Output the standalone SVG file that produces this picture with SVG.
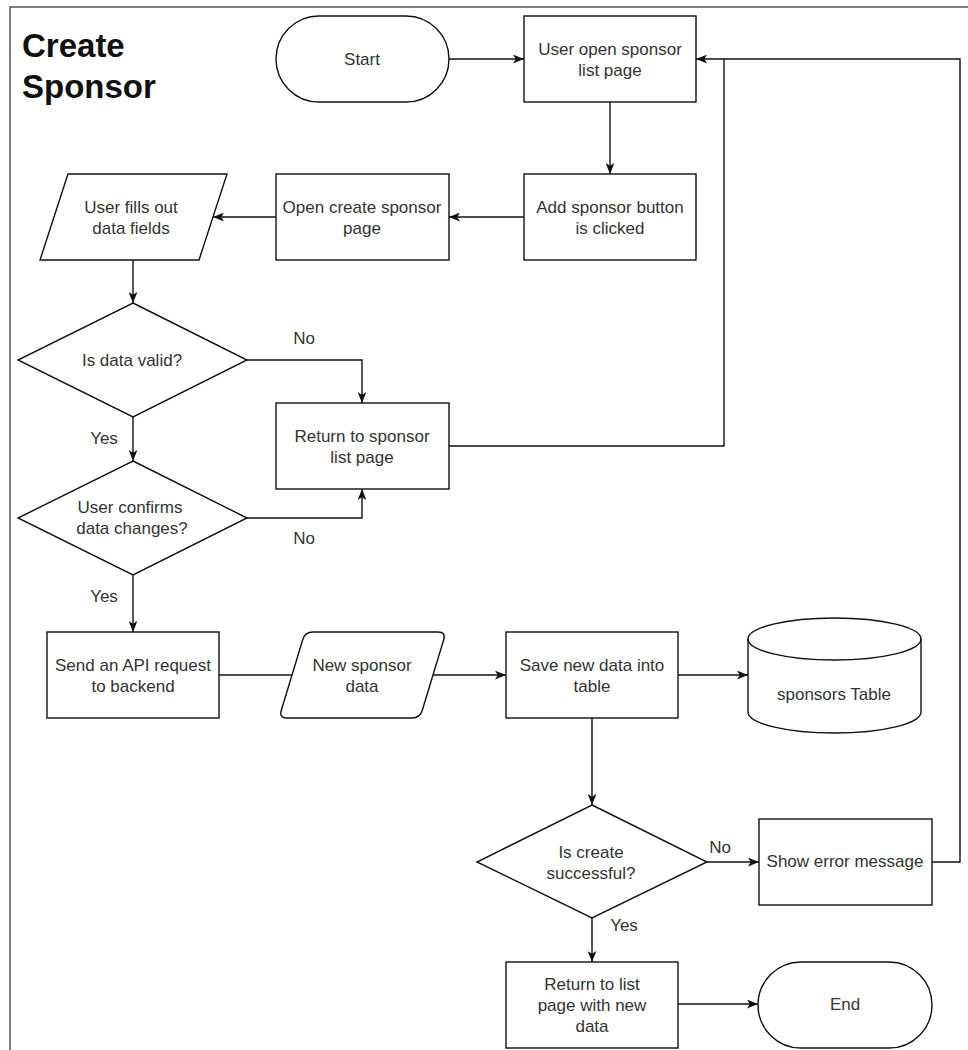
<svg xmlns="http://www.w3.org/2000/svg" width="968" height="1050" viewBox="0 0 968 1050">
<style>
.s{fill:#fff;stroke:#111;stroke-width:1.4}
.t{font-family:"Liberation Sans",Arial,sans-serif;font-size:17px;fill:#333;text-anchor:middle}
.ttl{font-family:"Liberation Sans",Arial,sans-serif;font-size:33px;font-weight:bold;fill:#111}
.c{fill:none;stroke:#111;stroke-width:1.4}
.lbl{font-family:"Liberation Sans",Arial,sans-serif;font-size:17px;fill:#333;text-anchor:middle}
</style>
<defs>
<marker id="arr" viewBox="0 0 10 8" refX="10" refY="4" markerWidth="11" markerHeight="9" orient="auto" markerUnits="userSpaceOnUse">
<path d="M0,0 L10,4 L0,8 L2.5,4 Z" fill="#111"/>
</marker>
</defs>
<rect width="968" height="1050" fill="#fff"/>
<g id="frame">
<path d="M10,1050 V7 H968" fill="none" stroke="#555" stroke-width="1.5"/>
<text class="ttl" x="22" y="57">Create</text>
<text class="ttl" x="22" y="98">Sponsor</text>
</g>
<g id="connectors">
<path class="c" d="M449,59 H524" marker-end="url(#arr)"/>
<path class="c" d="M610,102 V174" marker-end="url(#arr)"/>
<path class="c" d="M524,217 H449" marker-end="url(#arr)"/>
<path class="c" d="M276,217 H213" marker-end="url(#arr)"/>
<path class="c" d="M133,260 V303" marker-end="url(#arr)"/>
<path class="c" d="M247,360 H362 V403" marker-end="url(#arr)"/>
<path class="c" d="M133,417 V461" marker-end="url(#arr)"/>
<path class="c" d="M247,518 H362 V489" marker-end="url(#arr)"/>
<path class="c" d="M133,575 V632" marker-end="url(#arr)"/>
<path class="c" d="M219,675 H293"/>
<path class="c" d="M433,675 H506" marker-end="url(#arr)"/>
<path class="c" d="M678,675 H748" marker-end="url(#arr)"/>
<path class="c" d="M592,718 V805" marker-end="url(#arr)"/>
<path class="c" d="M707,862 H759" marker-end="url(#arr)"/>
<path class="c" d="M592,918 V962" marker-end="url(#arr)"/>
<path class="c" d="M932,862 H960 V59 H696" marker-end="url(#arr)"/>
<path class="c" d="M449,446 H724 V59"/>
<path class="c" d="M678,1004 H758" marker-end="url(#arr)"/>
<text class="lbl" x="304" y="344">No</text>
<text class="lbl" x="104" y="444">Yes</text>
<text class="lbl" x="304" y="544">No</text>
<text class="lbl" x="104" y="602">Yes</text>
<text class="lbl" x="720" y="853">No</text>
<text class="lbl" x="624" y="931">Yes</text>
</g>
<g id="start">
<rect class="s" x="276" y="16" width="173" height="86" rx="43"/>
<text class="t" x="362" y="65">Start</text>
</g>
<g id="user-open">
<rect class="s" x="524" y="16" width="172" height="86"/>
<text class="t" x="610" y="55">User open sponsor</text>
<text class="t" x="610" y="76">list page</text>
</g>
<g id="add-clicked">
<rect class="s" x="524" y="174" width="172" height="86"/>
<text class="t" x="610" y="213">Add sponsor button</text>
<text class="t" x="610" y="234">is clicked</text>
</g>
<g id="open-create">
<rect class="s" x="276" y="174" width="173" height="86"/>
<text class="t" x="362" y="213">Open create sponsor</text>
<text class="t" x="362" y="234">page</text>
</g>
<g id="fills">
<polygon class="s" points="68,174 227,174 199,260 40,260"/>
<text class="t" x="131" y="213">User fills out</text>
<text class="t" x="131" y="234">data fields</text>
</g>
<g id="valid">
<polygon class="s" points="133,303 247,360 133,417 18,360"/>
<text class="t" x="132" y="366">Is data valid?</text>
</g>
<g id="return-sponsor">
<rect class="s" x="276" y="403" width="173" height="86"/>
<text class="t" x="362" y="442">Return to sponsor</text>
<text class="t" x="362" y="463">list page</text>
</g>
<g id="confirm">
<polygon class="s" points="133,461 247,518 133,575 18,518"/>
<text class="t" x="130" y="513">User confirms</text>
<text class="t" x="132" y="534">data changes?</text>
</g>
<g id="send-api">
<rect class="s" x="47" y="632" width="172" height="86"/>
<text class="t" x="133" y="671">Send an API request</text>
<text class="t" x="133" y="692">to backend</text>
</g>
<g id="new-data">
<path class="s" d="M313,632 H438 Q446,632 443.7,639.7 L422.3,710.3 Q420,718 412,718 H287 Q279,718 281.3,710.3 L302.7,639.7 Q305,632 313,632 Z"/>
<text class="t" x="362" y="671">New sponsor</text>
<text class="t" x="362" y="692">data</text>
</g>
<g id="save">
<rect class="s" x="506" y="632" width="172" height="86"/>
<text class="t" x="592" y="671">Save new data into</text>
<text class="t" x="592" y="692">table</text>
</g>
<g id="table">
<path class="s" d="M748,639 A86.5,21 0 0 1 921,639 V712 A86.5,21 0 0 1 748,712 Z"/>
<path class="c" d="M748,639 A86.5,21 0 0 0 921,639"/>
<text class="t" x="834" y="700">sponsors Table</text>
</g>
<g id="success">
<polygon class="s" points="592,805 707,862 592,918 477,862"/>
<text class="t" x="591" y="858">Is create</text>
<text class="t" x="591" y="879">successful?</text>
</g>
<g id="error">
<rect class="s" x="759" y="819" width="173" height="86"/>
<text class="t" x="845" y="867">Show error message</text>
</g>
<g id="return-list">
<rect class="s" x="506" y="962" width="172" height="86"/>
<text class="t" x="592" y="990">Return to list</text>
<text class="t" x="592" y="1011">page with new</text>
<text class="t" x="592" y="1032">data</text>
</g>
<g id="end">
<rect class="s" x="758" y="962" width="174" height="86" rx="43"/>
<text class="t" x="845" y="1010">End</text>
</g>
</svg>
